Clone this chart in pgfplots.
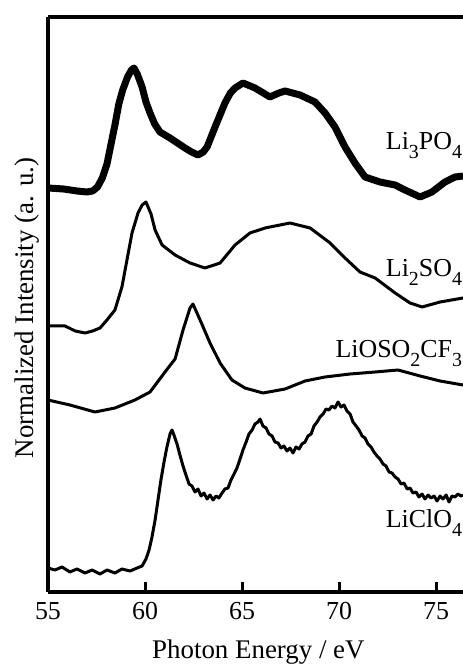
\documentclass[border=0pt]{standalone}
\usepackage{fontspec}
\setmainfont{Liberation Serif}
\usepackage{pgfplots}
\pgfplotsset{compat=1.18}

\newcommand{\chartfont}{\fontsize{26}{31}\selectfont}
\newcommand{\labelfont}{\fontsize{27}{32}\selectfont}
\newcommand{\sub}[1]{\raisebox{-9bp}{\fontsize{20}{20}\selectfont#1}}

\begin{document}
\begin{tikzpicture}
\useasboundingbox (-48bp,-72bp) rectangle (415bp,592bp);
\begin{axis}[
  scale only axis, width=415bp, height=575bp,
  xmin=55, xmax=76.39, ymin=0, ymax=575,
  clip=false,
  axis lines=left, axis line style={-, line width=3.5bp},
  xtick={55,60,65,70,75}, ytick=\empty,
  tick align=inside, major tick length=10bp,
  tick style={line width=3bp, black},
  xticklabel style={font=\chartfont, anchor=north, inner sep=0pt, yshift=-10bp},
  /pgf/number format/assume math mode=true,
  xlabel={Photon Energy / eV},
  every axis x label/.style={at={(rel axis cs:0.507,-0.1165)}, anchor=base, font=\labelfont},
  ylabel={Normalized Intensity (a. u.)},
  every axis y label/.style={at={(rel axis cs:-0.0361,0.494)}, rotate=90, anchor=base, font=\labelfont},
]
\draw[line width=3.5bp] (rel axis cs:0,1) -- (rel axis cs:1,1);

% Li3PO4
\addplot[black, line width=7bp, line join=round] coordinates {
(55.00,404)(55.8,403)(56.5,401)(57.0,400)(57.3,401)(57.55,405)(57.8,414)(58.04,428)
(58.25,448)(58.45,467)(58.65,488)(58.85,502)(59.1,515)(59.3,522)(59.43,524)(59.6,518)
(59.85,505)(60.05,490)(60.26,479)(60.5,468)(60.77,460)(61.29,454)(62.06,444)(62.4,440)
(62.73,437)(63.0,440)(63.20,445)(63.61,465)(64.12,489)(64.4,499)(64.64,504)(65.05,509)
(65.67,504)(66.44,495)(66.9,499)(67.22,501)(67.99,497)(68.76,490)(69.28,479)(69.79,465)
(70.31,445)(70.82,429)(71.34,415)(72.11,410)(72.89,407)(73.40,402)(74.18,395)(74.79,400)
(75.46,410)(75.98,415)(76.39,416)};

% Li2SO4
\addplot[black, line width=3bp, line join=round] coordinates {
(55.00,266)(55.88,266)(56.4,261)(56.91,259)(57.3,261)(57.68,264)(58.04,272)(58.45,282)
(58.81,305)(59.07,332)(59.33,359)(59.64,379)(59.85,387)(60.05,390)(60.31,378)(60.52,362)
(60.88,347)(61.55,337)(62.32,329)(63.09,324)(63.87,329)(64.64,347)(65.41,359)(66.19,364)
(67.47,369)(68.51,364)(69.54,349)(70.31,334)(71.08,320)(71.86,314)(72.89,299)(73.66,289)
(74.28,285)(75.21,290)(76.39,294)};

% LiOSO2CF3
\addplot[black, line width=3bp, line join=round] coordinates {
(55.00,192)(56.13,187)(57.42,180)(58.45,184)(59.48,192)(60.26,200)(61.03,220)(61.55,233)
(61.96,262)(62.32,284)(62.47,288)(62.84,272)(63.35,249)(63.87,229)(64.48,212)(65.15,204)
(66.08,199)(67.22,203)(68.25,211)(69.28,215)(70.57,218)(71.86,220)(73.04,222)(74.18,216)
(75.21,211)(76.39,207)};

% LiClO4
\addplot[black, line width=3bp, line join=round] coordinates {
(55.00,24)(55.36,22)(55.72,25)(56.13,20)(56.49,23)(56.91,19)(57.27,22)(57.68,18)
(58.04,22)(58.45,19)(58.81,23)(59.23,21)(59.59,24)(59.85,26)(60.05,33)(60.21,42)
(60.36,55)(60.52,72)(60.67,92)(60.82,112)(60.98,130)(61.13,145)(61.29,158)(61.39,162)
(61.49,157)(61.65,148)(61.80,137)(61.96,126)(62.11,117)(62.27,108)(62.42,106)(62.58,100)
(62.73,103)(62.89,96)(63.04,99)(63.20,93)(63.35,97)(63.51,92)(63.66,96)(63.81,94)
(63.97,99)(64.12,103)(64.28,104)(64.43,112)(64.59,118)(64.74,124)(64.90,133)(65.05,142)
(65.21,150)(65.36,158)(65.52,162)(65.67,168)(65.82,170)(65.93,173)(66.08,166)(66.24,164)
(66.39,158)(66.55,156)(66.70,150)(66.86,149)(67.01,144)(67.16,146)(67.32,141)(67.47,144)
(67.63,139)(67.78,145)(67.94,143)(68.09,148)(68.25,150)(68.40,156)(68.56,158)(68.71,166)
(68.87,170)(69.02,175)(69.18,178)(69.33,183)(69.48,182)(69.64,186)(69.79,184)(69.95,190)
(70.10,185)(70.26,187)(70.41,181)(70.57,178)(70.72,170)(70.88,166)(71.03,162)(71.19,156)
(71.34,154)(71.49,148)(71.65,145)(71.80,140)(71.96,136)(72.11,133)(72.27,128)(72.42,126)
(72.58,120)(72.73,119)(72.89,115)(73.04,113)(73.20,108)(73.35,109)(73.51,103)(73.66,104)
(73.81,99)(73.97,100)(74.12,95)(74.28,98)(74.43,93)(74.59,97)(74.74,94)(74.90,96)
(75.05,91)(75.21,96)(75.36,93)(75.52,97)(75.67,90)(75.82,96)(75.98,95)(76.13,98)
(76.29,96)(76.39,97)};

\node[anchor=base east, font=\chartfont, inner sep=0pt] at (axis cs:76.35,442) {Li\sub{3}PO\sub{4}};
\node[anchor=base east, font=\chartfont, inner sep=0pt] at (axis cs:76.35,315) {Li\sub{2}SO\sub{4}};
\node[anchor=base east, font=\chartfont, inner sep=0pt] at (axis cs:76.35,234) {LiOSO\sub{2}CF\sub{3}};
\node[anchor=base east, font=\chartfont, inner sep=0pt] at (axis cs:76.35,65) {LiClO\sub{4}};
\end{axis}
\end{tikzpicture}
\end{document}
